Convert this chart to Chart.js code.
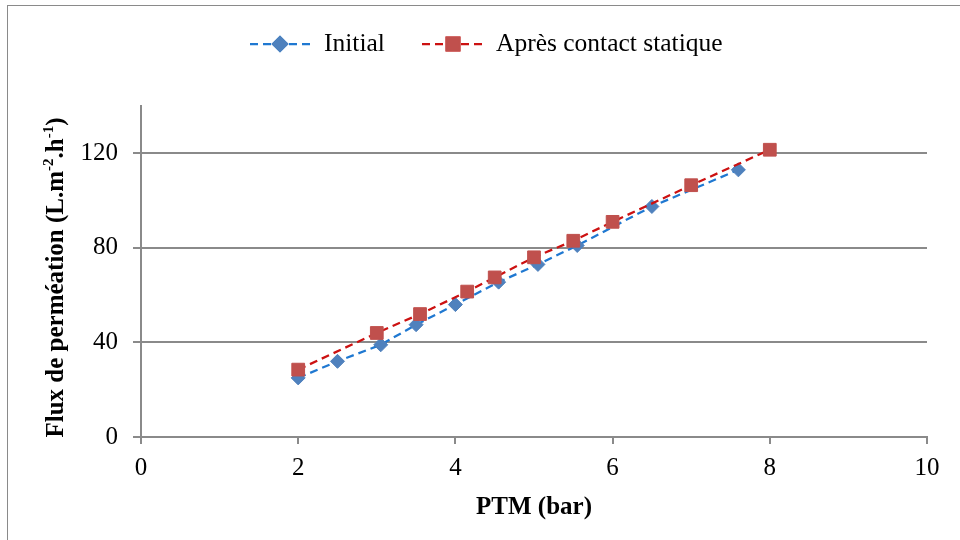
<!DOCTYPE html>
<html>
<head>
<meta charset="utf-8">
<script src="https://cdn.jsdelivr.net/npm/chart.js@4/dist/chart.umd.min.js"></script>
<style>
  html, body { margin: 0; padding: 0; background: #fff; }
  #wrap { position: relative; width: 960px; height: 540px; overflow: hidden; }
  #frame { position: absolute; left: 7px; top: 5px; width: 1000px; height: 600px; border: 1.5px solid #8a8a8a; box-sizing: border-box; }
  #c { position: absolute; left: 0; top: 0; }
</style>
</head>
<body>
<div id="wrap">
  <div id="frame"></div>
  <canvas id="c" width="960" height="540"></canvas>
</div>
<script>
// ---- data ----
const seriesNames = ['Initial', 'Après contact statique'];
const xInitial = [2, 2.5, 3.05, 3.5, 4, 4.55, 5.05, 5.55, 6.5, 7.6];
const yInitial = [25, 32, 39, 47.5, 56, 65.5, 73, 81, 97.5, 113];
const xApres = [2, 3, 3.55, 4.15, 4.5, 5, 5.5, 6, 7, 8];
const yApres = [28.5, 44, 52, 61.5, 67.5, 76, 83, 91, 106.5, 121.5];
const xTicks = [0, 2, 4, 6, 8, 10];
const yTicks = [0, 40, 80, 120];
const xTitle = 'PTM (bar)';
const yTitleParts = [['Flux de perméation (L.m', false], ['-2', true], ['.h', false], ['-1', true], [')', false]];

const FONT = '"Liberation Serif", "Times New Roman", serif';
const GRID = '#8a8a8a';

function pts(xs, ys) { return xs.map((x, i) => ({ x: x, y: ys[i] })); }

const legendPlugin = {
  id: 'customLegend',
  afterDraw(chart) {
    const ctx = chart.ctx;
    const items = [
      { ds: chart.data.datasets[0], x0: 250, cx: 280 },
      { ds: chart.data.datasets[1], x0: 422, cx: 453 }
    ];
    const y = 44;
    items.forEach(it => {
      ctx.save();
      ctx.strokeStyle = it.ds.borderColor;
      ctx.lineWidth = it.ds.borderWidth;
      ctx.setLineDash(it.ds.borderDash);
      ctx.beginPath();
      ctx.moveTo(it.x0, y);
      ctx.lineTo(it.x0 + 60, y);
      ctx.stroke();
      ctx.setLineDash([]);
      Chart.helpers.drawPoint(ctx, {
        pointStyle: it.ds.pointStyle,
        radius: it.ds.pointRadius,
        borderWidth: 1
      }, it.cx, y);
      ctx.fillStyle = it.ds.pointBackgroundColor;
      ctx.strokeStyle = it.ds.pointBorderColor;
      ctx.fill();
      ctx.stroke();
      ctx.fillStyle = '#000';
      ctx.font = '25.5px ' + FONT;
      ctx.textBaseline = 'middle';
      ctx.textAlign = 'left';
      ctx.fillText(it.ds.label, it.x0 + 74, y);
      ctx.restore();
    });
  }
};

const yTitlePlugin = {
  id: 'yTitle',
  afterDraw(chart) {
    const ctx = chart.ctx;
    const mainFont = 'bold 25px ' + FONT;
    const supFont = 'bold 15px ' + FONT;
    ctx.save();
    let total = 0;
    yTitleParts.forEach(p => { ctx.font = p[1] ? supFont : mainFont; total += ctx.measureText(p[0]).width; });
    const area = chart.chartArea;
    ctx.translate(57, (area.top + area.bottom) / 2 + 6);
    ctx.rotate(-Math.PI / 2);
    ctx.fillStyle = '#000';
    ctx.textBaseline = 'middle';
    ctx.textAlign = 'left';
    let x = -total / 2;
    yTitleParts.forEach(p => {
      ctx.font = p[1] ? supFont : mainFont;
      ctx.fillText(p[0], x, p[1] ? -8 : 0);
      x += ctx.measureText(p[0]).width;
    });
    ctx.restore();
  }
};

new Chart(document.getElementById('c'), {
  type: 'line',
  data: {
    datasets: [
      {
        label: seriesNames[0],
        data: pts(xInitial, yInitial),
        borderColor: '#1f78d1',
        borderWidth: 2.25,
        borderDash: [8, 5],
        pointStyle: 'rectRot',
        pointRadius: 7,
        pointHoverRadius: 7,
        pointBackgroundColor: '#4f81bd',
        pointBorderColor: '#4f81bd',
        pointBorderWidth: 1,
        fill: false,
        tension: 0,
        order: 2
      },
      {
        label: seriesNames[1],
        data: pts(xApres, yApres),
        borderColor: '#cc1111',
        borderWidth: 2.25,
        borderDash: [8, 5],
        pointStyle: 'rect',
        pointRadius: 9,
        pointHoverRadius: 9,
        pointBackgroundColor: '#c0504d',
        pointBorderColor: '#c0504d',
        pointBorderWidth: 1,
        fill: false,
        tension: 0,
        order: 1
      }
    ]
  },
  options: {
    responsive: false,
    animation: false,
    layout: { padding: { left: 0, right: 33, top: 106, bottom: 0 } },
    plugins: {
      legend: { display: false },
      tooltip: { enabled: false },
      title: { display: false }
    },
    scales: {
      x: {
        type: 'linear',
        min: 0,
        max: 10,
        afterFit(scale) { scale.height = 103; },
        afterBuildTicks(scale) { scale.ticks = xTicks.map(v => ({ value: v })); },
        ticks: { font: { family: FONT, size: 25 }, color: '#000', padding: 9, maxRotation: 0, autoSkip: false },
        grid: { drawOnChartArea: false, drawTicks: true, tickLength: 7, color: GRID, lineWidth: 2 },
        border: { display: true, color: GRID, width: 2 },
        title: { display: true, text: xTitle, font: { family: FONT, size: 25, weight: 'bold' }, color: '#000', padding: { top: 0, bottom: 17 } }
      },
      y: {
        type: 'linear',
        min: 0,
        max: 140,
        afterFit(scale) { scale.width = 141; },
        afterBuildTicks(scale) { scale.ticks = yTicks.map(v => ({ value: v })); },
        ticks: { font: { family: FONT, size: 25 }, color: '#000', padding: 15 },
        grid: { drawOnChartArea: true, drawTicks: true, tickLength: 8, color: GRID, lineWidth: 2 },
        border: { display: true, color: GRID, width: 2 },
        title: { display: false }
      }
    }
  },
  plugins: [legendPlugin, yTitlePlugin]
});
</script>
</body>
</html>
